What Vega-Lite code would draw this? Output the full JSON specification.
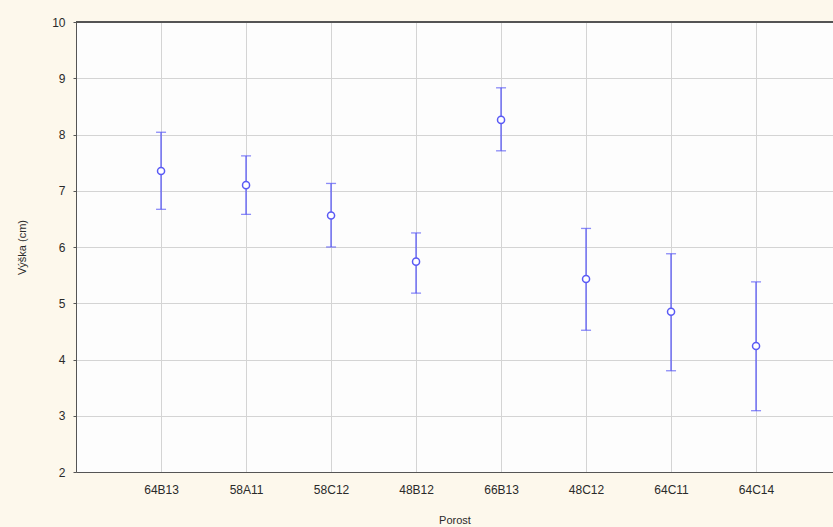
{
  "$schema": "https://vega.github.io/schema/vega-lite/v6.json",
  "autosize": {"type": "none"},
  "padding": {"left": 76, "top": 22, "right": 0, "bottom": 55},
  "width": 757,
  "height": 450,
  "background": "#fdf8ec",
  "config": {
    "view": {"fill": "#fdfdfd", "stroke": null},
    "font": "Liberation Sans",
    "axis": {"labelFont": "Liberation Sans", "titleFont": "Liberation Sans", "labelColor": "#2a2a2a", "titleColor": "#2a2a2a", "titleFontWeight": "normal", "gridColor": "#d4d4d4", "gridOpacity": 1, "domainColor": "#555555", "tickColor": "#555555"}
  },
  "data": {"values": [
    {"porost": "64B13", "mean": 7.35, "lower": 6.67, "upper": 8.04},
    {"porost": "58A11", "mean": 7.10, "lower": 6.58, "upper": 7.62},
    {"porost": "58C12", "mean": 6.56, "lower": 6.00, "upper": 7.13},
    {"porost": "48B12", "mean": 5.74, "lower": 5.18, "upper": 6.25},
    {"porost": "66B13", "mean": 8.26, "lower": 7.71, "upper": 8.83},
    {"porost": "48C12", "mean": 5.43, "lower": 4.52, "upper": 6.33},
    {"porost": "64C11", "mean": 4.85, "lower": 3.80, "upper": 5.88},
    {"porost": "64C14", "mean": 4.24, "lower": 3.09, "upper": 5.38}
  ]},
  "encoding": {
    "x": {
      "field": "porost", "type": "nominal", "sort": null,
      "scale": {"type": "point", "padding": 0.953, "align": 0.525},
      "axis": {"title": "Porost", "titleFontSize": 11, "titlePadding": 19, "labelFontSize": 12, "labelAngle": 0, "ticks": false, "labelPadding": 12, "grid": true}
    }
  },
  "layer": [
    {
      "mark": {"type": "rule", "color": "#5a5af5", "strokeWidth": 1.3},
      "encoding": {
        "y": {"field": "lower", "type": "quantitative",
          "scale": {"domain": [2, 10], "nice": false, "zero": false},
          "axis": {"title": "Výška (cm)", "titleFontSize": 11, "titlePadding": 24, "labelFontSize": 12, "values": [2,3,4,5,6,7,8,9,10], "tickSize": 3, "labelPadding": 8, "grid": true}},
        "y2": {"field": "upper"}
      }
    },
    {
      "mark": {"type": "tick", "color": "#5a5af5", "size": 10, "thickness": 1.3, "orient": "horizontal"},
      "encoding": {"y": {"field": "lower", "type": "quantitative", "title": "Výška (cm)",
          "axis": {"title": "Výška (cm)", "titleFontSize": 11, "titlePadding": 24, "labelFontSize": 12, "values": [2,3,4,5,6,7,8,9,10], "tickSize": 3, "labelPadding": 8, "grid": true}}}
    },
    {
      "mark": {"type": "tick", "color": "#5a5af5", "size": 10, "thickness": 1.3, "orient": "horizontal"},
      "encoding": {"y": {"field": "upper", "type": "quantitative", "title": "Výška (cm)",
          "axis": {"title": "Výška (cm)", "titleFontSize": 11, "titlePadding": 24, "labelFontSize": 12, "values": [2,3,4,5,6,7,8,9,10], "tickSize": 3, "labelPadding": 8, "grid": true}}}
    },
    {
      "mark": {"type": "point", "shape": "circle", "filled": true, "fill": "#ffffff", "stroke": "#5a5af5", "strokeWidth": 1.5, "size": 50, "opacity": 1},
      "encoding": {"y": {"field": "mean", "type": "quantitative", "title": "Výška (cm)",
          "axis": {"title": "Výška (cm)", "titleFontSize": 11, "titlePadding": 24, "labelFontSize": 12, "values": [2,3,4,5,6,7,8,9,10], "tickSize": 3, "labelPadding": 8, "grid": true}}}
    },
    {
      "mark": {"type": "rule", "color": "#555555", "strokeWidth": 1},
      "encoding": {"y": {"datum": 10, "title": "Výška (cm)",
          "axis": {"title": "Výška (cm)", "titleFontSize": 11, "titlePadding": 24, "labelFontSize": 12, "values": [2,3,4,5,6,7,8,9,10], "tickSize": 3, "labelPadding": 8, "grid": true}}, "x": {"value": 0}, "x2": {"value": 757}}
    }
  ]
}
